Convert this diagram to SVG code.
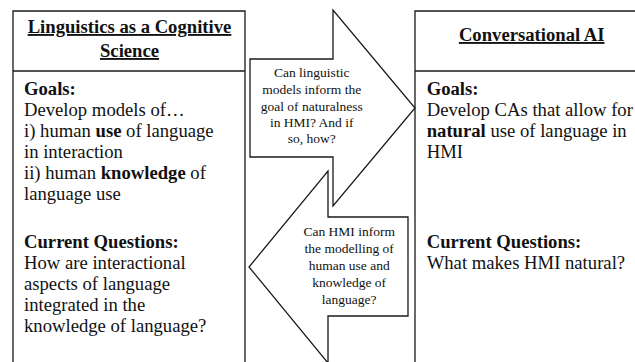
<svg xmlns="http://www.w3.org/2000/svg" width="635" height="362" viewBox="0 0 635 362">
<style>
.box{fill:#fff;stroke:#1a1a1a;stroke-width:1.3}
.arr{fill:#fff;stroke:#1a1a1a;stroke-width:1.3;stroke-linejoin:miter}
text{font-family:"Liberation Serif","Times New Roman",serif;fill:#111}
.t{font-size:18.67px;font-weight:bold;text-anchor:middle;text-decoration:underline}
.b{font-size:18.67px}
.bb{font-weight:bold}
.s{font-size:13.5px;text-anchor:middle}
</style>
<rect width="635" height="362" fill="#fff"/>
<g id="node-linguistics">
<path class="box" d="M13 365 V11 H245 V365 M13 71 H245"/>
<text class="t" x="129.5" y="33">Linguistics as a Cognitive</text>
<text class="t" x="129.5" y="57">Science</text>
<text class="b" x="24" y="95"><tspan class="bb">Goals:</tspan></text>
<text class="b" x="24" y="115.7">Develop models of…</text>
<text class="b" x="24" y="136.7">i) human <tspan class="bb">use</tspan> of language</text>
<text class="b" x="24" y="157.7">in interaction</text>
<text class="b" x="24" y="178.7">ii) human <tspan class="bb">knowledge</tspan> of</text>
<text class="b" x="24" y="199.5">language use</text>
<text class="b" x="24" y="247.7"><tspan class="bb">Current Questions:</tspan></text>
<text class="b" x="24" y="269">How are interactional</text>
<text class="b" x="24" y="290">aspects of language</text>
<text class="b" x="24" y="310.8">integrated in the</text>
<text class="b" x="24" y="331.7">knowledge of language?</text>
</g>
<g id="node-conversational-ai">
<path class="box" d="M415 365 V11 H640 M415 71 H640"/>
<text class="t" x="531.7" y="41">Conversational AI</text>
<text class="b" x="426.7" y="95"><tspan class="bb">Goals:</tspan></text>
<text class="b" x="426.7" y="115.7">Develop CAs that allow for</text>
<text class="b" x="426.7" y="136.7"><tspan class="bb">natural</tspan> use of language in</text>
<text class="b" x="426.7" y="157.5">HMI</text>
<text class="b" x="426.7" y="248.3"><tspan class="bb">Current Questions:</tspan></text>
<text class="b" x="426.7" y="269">What makes HMI natural?</text>
</g>
<g id="connectors">
<g id="arrow-ling-to-ai">
<path class="arr" d="M250 59 H333 V10 L415 108 L333 206 V157 H250 Z"/>
<text class="s" x="311.7" y="77.3">Can linguistic</text>
<text class="s" x="311.7" y="94">models inform the</text>
<text class="s" x="311.7" y="110.6">goal of naturalness</text>
<text class="s" x="311.7" y="127">in HMI? And if</text>
<text class="s" x="311.7" y="143.4">so, how?</text>
</g>
<g id="arrow-ai-to-ling">
<path class="arr" d="M408 217 H328 V171 L249 267 L328 363 V316 H408 Z"/>
<text class="s" x="349.2" y="236">Can HMI inform</text>
<text class="s" x="349.2" y="253">the modelling of</text>
<text class="s" x="349.2" y="270">human use and</text>
<text class="s" x="349.2" y="287">knowledge of</text>
<text class="s" x="349.2" y="304">language?</text>
</g>
</g>
</svg>
